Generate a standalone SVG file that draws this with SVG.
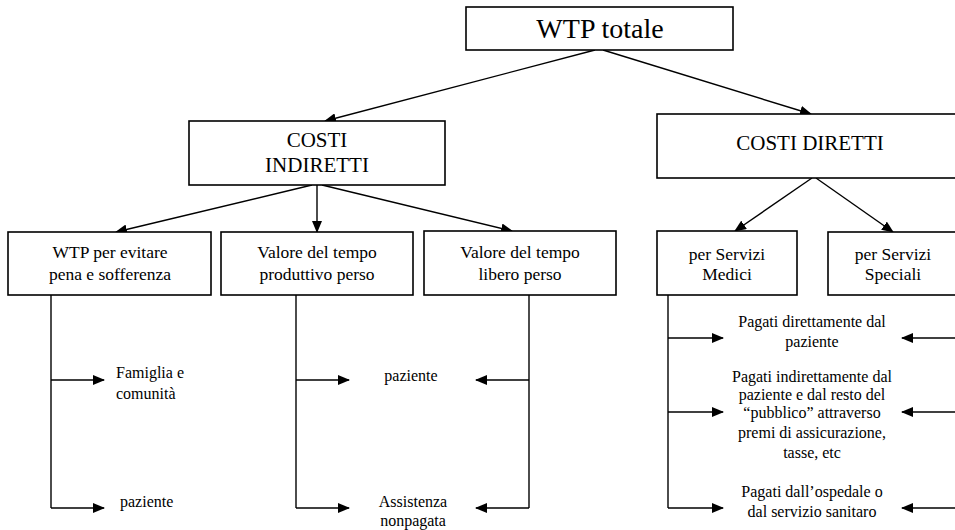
<svg xmlns="http://www.w3.org/2000/svg" width="955" height="530" viewBox="0 0 955 530">
  <style>
    .box { fill: #fff; stroke: #000; stroke-width: 1.6; }
    .t { font-family: 'Liberation Serif', 'DejaVu Serif', serif; fill: #000; }
    .c { text-anchor: middle; }
    .big { font-size: 28px; }
    .mid { font-size: 21px; }
    .sm { font-size: 17.5px; }
    .xs { font-size: 16px; }
    .conn line, .conn polyline { stroke: #000; stroke-width: 1.4; fill: none; }
    .conn .arr { marker-end: url(#head); }
  </style>
  <defs>
    <marker id="head" markerUnits="userSpaceOnUse" markerWidth="12" markerHeight="10" refX="11" refY="5" orient="auto">
      <path d="M0,0 L12,5 L0,10 Z" fill="#000"/>
    </marker>
  </defs>
  <rect width="955" height="530" fill="#fff"/>

  <!-- connectors -->
  <g id="connectors" class="conn">
    <line class="arr" x1="595" y1="50" x2="325" y2="121"/>
    <line class="arr" x1="603" y1="50" x2="811" y2="114"/>
    <line class="arr" x1="312" y1="185" x2="116" y2="232"/>
    <line class="arr" x1="317" y1="185" x2="317" y2="232"/>
    <line class="arr" x1="322" y1="185" x2="512" y2="231"/>
    <line class="arr" x1="812" y1="178" x2="735" y2="231"/>
    <line class="arr" x1="816" y1="178" x2="893" y2="232"/>

    <!-- pain and suffering branches -->
    <polyline points="51,295 51,508"/>
    <line class="arr" x1="51" y1="380" x2="104" y2="380"/>
    <line class="arr" x1="51" y1="508" x2="104" y2="508"/>

    <!-- lost time branches -->
    <polyline points="296,295 296,508"/>
    <line class="arr" x1="296" y1="380" x2="349" y2="380"/>
    <line class="arr" x1="296" y1="508" x2="349" y2="508"/>
    <polyline points="529,295 529,508"/>
    <line class="arr" x1="529" y1="380" x2="476" y2="380"/>
    <line class="arr" x1="529" y1="508" x2="476" y2="508"/>

    <!-- payer branches -->
    <polyline points="668,295 668,508"/>
    <line class="arr" x1="668" y1="338" x2="723" y2="338"/>
    <line class="arr" x1="668" y1="412" x2="723" y2="412"/>
    <line class="arr" x1="668" y1="508" x2="723" y2="508"/>
    <line class="arr" x1="960" y1="338" x2="902" y2="338"/>
    <line class="arr" x1="960" y1="412" x2="902" y2="412"/>
    <line class="arr" x1="960" y1="508" x2="902" y2="508"/>
  </g>

  <g id="wtp-totale">
    <rect class="box" x="466" y="7" width="267" height="43"/>
    <text class="t c big" x="600" y="38">WTP totale</text>
  </g>

  <g id="costi-indiretti">
    <rect class="box" x="189" y="121" width="256" height="64"/>
    <text class="t c mid" x="317" y="147">COSTI</text>
    <text class="t c mid" x="317" y="172">INDIRETTI</text>
  </g>

  <g id="costi-diretti">
    <rect class="box" x="657" y="114" width="310" height="64"/>
    <text class="t c mid" x="810" y="150">COSTI DIRETTI</text>
  </g>

  <g id="wtp-pena">
    <rect class="box" x="8" y="232" width="203" height="63"/>
    <text class="t c sm" x="110" y="258">WTP per evitare</text>
    <text class="t c sm" x="110" y="280">pena e sofferenza</text>
  </g>

  <g id="tempo-produttivo">
    <rect class="box" x="221" y="232" width="192" height="63"/>
    <text class="t c sm" x="317" y="258">Valore del tempo</text>
    <text class="t c sm" x="317" y="280">produttivo perso</text>
  </g>

  <g id="tempo-libero">
    <rect class="box" x="424" y="231" width="192" height="64"/>
    <text class="t c sm" x="520" y="258">Valore del tempo</text>
    <text class="t c sm" x="520" y="280">libero perso</text>
  </g>

  <g id="servizi-medici">
    <rect class="box" x="657" y="231" width="140" height="64"/>
    <text class="t c sm" x="727" y="260">per Servizi</text>
    <text class="t c sm" x="727" y="280">Medici</text>
  </g>

  <g id="servizi-speciali">
    <rect class="box" x="828" y="232" width="140" height="63"/>
    <text class="t c sm" x="893" y="260">per Servizi</text>
    <text class="t c sm" x="893" y="280">Speciali</text>
  </g>

  <g id="famiglia">
    <text class="t xs" x="116" y="378">Famiglia e</text>
    <text class="t xs" x="116" y="399">comunità</text>
  </g>
  <g id="paziente-1">
    <text class="t xs" x="120" y="507">paziente</text>
  </g>
  <g id="paziente-2">
    <text class="t c xs" x="411" y="381">paziente</text>
  </g>
  <g id="assistenza">
    <text class="t c xs" x="413" y="507">Assistenza</text>
    <text class="t c xs" x="413" y="526">nonpagata</text>
  </g>

  <g id="pagati-diretti">
    <text class="t c xs" x="812" y="327">Pagati direttamente dal</text>
    <text class="t c xs" x="812" y="347">paziente</text>
  </g>
  <g id="pagati-indiretti">
    <text class="t c xs" x="812" y="382">Pagati indirettamente dal</text>
    <text class="t c xs" x="812" y="400">paziente e dal resto del</text>
    <text class="t c xs" x="812" y="418">“pubblico” attraverso</text>
    <text class="t c xs" x="812" y="438">premi di assicurazione,</text>
    <text class="t c xs" x="812" y="458">tasse, etc</text>
  </g>
  <g id="pagati-ospedale">
    <text class="t c xs" x="812" y="497">Pagati dall’ospedale o</text>
    <text class="t c xs" x="812" y="517">dal servizio sanitaro</text>
  </g>
</svg>
